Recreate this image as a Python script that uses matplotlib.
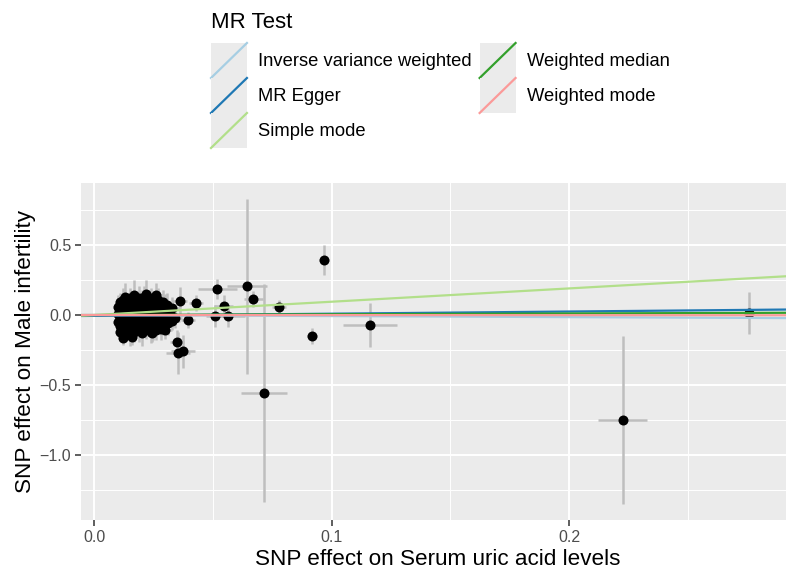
import matplotlib
matplotlib.use("Agg")
import matplotlib.pyplot as plt
from matplotlib.legend_handler import HandlerBase
from matplotlib.lines import Line2D
from matplotlib.patches import Rectangle

plt.rcParams['font.family'] = ['Liberation Sans', 'DejaVu Sans']

# SNP effects (exposure = serum uric acid, outcome = male infertility)
snp_x = [
    # dense cluster, top
    0.012, 0.013, 0.015, 0.017, 0.019, 0.021, 0.022, 0.024, 0.026, 0.027, 0.016, 0.020, 0.025, 0.029, 0.011,
    # upper middle
    0.010, 0.011, 0.012, 0.013, 0.014, 0.015, 0.016, 0.017, 0.018, 0.019, 0.020, 0.021, 0.022, 0.023, 0.024,
    0.025, 0.026, 0.027, 0.028, 0.030, 0.031, 0.033,
    # middle
    0.010, 0.011, 0.012, 0.013, 0.014, 0.015, 0.016, 0.017, 0.018, 0.019, 0.020, 0.021, 0.022, 0.023, 0.024,
    0.025, 0.026, 0.027, 0.028, 0.029, 0.030, 0.032, 0.034,
    # lower middle
    0.010, 0.011, 0.012, 0.013, 0.014, 0.015, 0.016, 0.017, 0.018, 0.019, 0.020, 0.021, 0.022, 0.023, 0.024,
    0.025, 0.026, 0.027, 0.028, 0.029, 0.031, 0.033,
    # bottom
    0.011, 0.012, 0.013, 0.015, 0.016, 0.017, 0.019, 0.020, 0.022, 0.024, 0.0245, 0.026, 0.028, 0.030,
    # spread out SNPs
    0.0307, 0.036, 0.043, 0.0396, 0.035, 0.0354, 0.0375, 0.0518, 0.0547, 0.051, 0.0564, 0.067, 0.0644,
    0.078, 0.0716, 0.0918, 0.0968, 0.1162, 0.2227, 0.2758,
]
snp_y = [
    0.11, 0.13, 0.12, 0.14, 0.12, 0.13, 0.15, 0.12, 0.14, 0.11, 0.10, 0.10, 0.10, 0.09, 0.09,
    0.06, 0.04, 0.07, 0.05, 0.08, 0.06, 0.04, 0.07, 0.05, 0.08, 0.06, 0.04, 0.07, 0.05, 0.08,
    0.06, 0.04, 0.07, 0.05, 0.06, 0.03, 0.05,
    0.01, -0.02, 0.02, -0.01, 0.00, 0.03, -0.02, 0.01, -0.01, 0.02, -0.03, 0.00, 0.02, -0.02, 0.01,
    -0.01, 0.02, -0.02, 0.00, 0.03, -0.01, 0.01, -0.02,
    -0.05, -0.08, -0.04, -0.07, -0.09, -0.05, -0.08, -0.06, -0.04, -0.09, -0.07, -0.05, -0.08, -0.06, -0.04,
    -0.09, -0.06, -0.05, -0.08, -0.05, -0.06, -0.04,
    -0.12, -0.165, -0.11, -0.14, -0.155, -0.12, -0.11, -0.13, -0.10, -0.12, -0.13, -0.11, -0.10, -0.11,
    0.07, 0.10, 0.086, -0.036, -0.19, -0.27, -0.26, 0.186, 0.064, -0.007, -0.007, 0.114, 0.207,
    0.057, -0.557, -0.15, 0.39, -0.07, -0.75, 0.015,
]
se_x = [
    0.002, 0.002, 0.003, 0.002, 0.002, 0.003, 0.002, 0.002, 0.003, 0.002, 0.002, 0.002, 0.003, 0.002, 0.002,
    0.002, 0.002, 0.002, 0.003, 0.002, 0.002, 0.002, 0.003, 0.002, 0.002, 0.002, 0.003, 0.002, 0.002, 0.002,
    0.003, 0.002, 0.002, 0.002, 0.003, 0.002, 0.003,
    0.002, 0.002, 0.002, 0.002, 0.003, 0.002, 0.002, 0.002, 0.002, 0.003, 0.002, 0.002, 0.002, 0.002, 0.003,
    0.002, 0.002, 0.002, 0.003, 0.002, 0.002, 0.003, 0.003,
    0.002, 0.002, 0.002, 0.003, 0.002, 0.002, 0.002, 0.002, 0.003, 0.002, 0.002, 0.002, 0.003, 0.002, 0.002,
    0.002, 0.003, 0.002, 0.002, 0.002, 0.003, 0.003,
    0.002, 0.002, 0.002, 0.003, 0.002, 0.002, 0.002, 0.003, 0.002, 0.002, 0.003, 0.002, 0.002, 0.003,
    0.003, 0.003, 0.003, 0.003, 0.003, 0.005, 0.005, 0.0082, 0.004, 0.004, 0.007, 0.004, 0.0086,
    0.003, 0.0097, 0.002, 0.002, 0.0114, 0.0103, 0.002,
]
se_y = [
    0.08, 0.10, 0.07, 0.11, 0.09, 0.08, 0.10, 0.07, 0.09, 0.08, 0.06, 0.08, 0.07, 0.09, 0.07,
    0.08, 0.06, 0.09, 0.07, 0.08, 0.10, 0.06, 0.08, 0.07, 0.09, 0.08, 0.07, 0.10, 0.06, 0.08,
    0.07, 0.09, 0.08, 0.06, 0.09, 0.07, 0.08,
    0.07, 0.08, 0.06, 0.09, 0.07, 0.08, 0.06, 0.07, 0.09, 0.08, 0.07, 0.06, 0.08, 0.07, 0.09,
    0.08, 0.06, 0.07, 0.08, 0.09, 0.07, 0.08, 0.07,
    0.07, 0.08, 0.06, 0.09, 0.07, 0.08, 0.10, 0.06, 0.08, 0.07, 0.09, 0.08, 0.07, 0.06, 0.08,
    0.09, 0.07, 0.08, 0.06, 0.09, 0.08, 0.07,
    0.06, 0.05, 0.07, 0.08, 0.06, 0.07, 0.08, 0.09, 0.07, 0.08, 0.06, 0.07, 0.08, 0.06,
    0.09, 0.10, 0.06, 0.06, 0.08, 0.15, 0.12, 0.07, 0.08, 0.08, 0.08, 0.06, 0.625,
    0.05, 0.78, 0.06, 0.107, 0.157, 0.60, 0.15,
]

# MR estimates: (method, intercept, slope)
methods = ['Inverse variance weighted', 'MR Egger', 'Simple mode', 'Weighted median', 'Weighted mode']
intercepts = [0.0, -0.006, 0.0, 0.0, 0.0]
slopes = [-0.075, 0.155, 0.95, 0.055, -0.005]
colors = ['#A6CEE3', '#1F78B4', '#B2DF8A', '#33A02C', '#FB9A99']

fig = plt.figure(figsize=(7.86, 5.79), dpi=100)
ax = fig.add_axes([81 / 786, 59 / 579, 705 / 786, 337 / 579])
ax.set_facecolor('#EBEBEB')

ax.errorbar(snp_x, snp_y, yerr=se_y, fmt='none', ecolor='#BEBEBE', elinewidth=1.8, capsize=0, zorder=2)
ax.errorbar(snp_x, snp_y, xerr=se_x, fmt='none', ecolor='#BEBEBE', elinewidth=1.8, capsize=0, zorder=2)
ax.scatter(snp_x, snp_y, s=52, color='black', linewidths=0, zorder=3)

for m, a, b, c in zip(methods, intercepts, slopes, colors):
    ax.axline((0, a), slope=b, color=c, lw=1.6, zorder=4, label=m)

ax.set_xlim(-0.0055, 0.2914)
ax.set_ylim(-1.464, 0.943)
ax.set_xticks([0.0, 0.1, 0.2])
ax.set_xticklabels(['0.0', '0.1', '0.2'])
ax.set_yticks([-1.0, -0.5, 0.0, 0.5])
ax.set_yticklabels(['\u22121.0', '\u22120.5', '0.0', '0.5'])
ax.set_xticks([0.05, 0.15, 0.25], minor=True)
ax.set_yticks([-1.25, -0.75, -0.25, 0.25, 0.75], minor=True)
ax.grid(which='major', color='white', lw=1.4)
ax.grid(which='minor', color='white', lw=0.7)
ax.set_axisbelow(True)
for s in ax.spines.values():
    s.set_visible(False)
ax.tick_params(which='major', length=4, width=1.1, color='#333333', labelcolor='#4D4D4D', labelsize=11.5, pad=3)
ax.tick_params(which='minor', length=0)

ax.set_xlabel('SNP effect on Serum uric acid levels', fontsize=16.2)
ax.set_ylabel('SNP effect on Male infertility', fontsize=16.2)
ax.xaxis.set_label_coords(0.5057, -0.086)
ax.yaxis.set_label_coords(-0.064, 0.5)


class KeyHandler(HandlerBase):
    def create_artists(self, legend, orig_handle, xdescent, ydescent, width, height, fontsize, trans):
        x0, y0 = -xdescent, -ydescent
        bg = Rectangle((x0, y0), width, height, facecolor='#EBEBEB', edgecolor='none', transform=trans)
        ln = Line2D([x0, x0 + width], [y0, y0 + height], color=orig_handle.get_color(), lw=1.6, transform=trans)
        return [bg, ln]


handles, labels = ax.get_legend_handles_labels()
leg = fig.legend(handles, labels, loc='upper left', bbox_to_anchor=(211 / 786, 1 - 12 / 579), ncol=2,
                 frameon=False, title='MR Test', title_fontsize=16, fontsize=13.2, alignment='left',
                 handler_map={type(handles[0]): KeyHandler()}, handlelength=1.96, handleheight=2.56,
                 labelspacing=0.0, handletextpad=0.6, columnspacing=0.44, borderpad=0.0,
                 borderaxespad=0.0)
leg._legend_box.sep = 7.2

fig.savefig('out.png', dpi=100)
